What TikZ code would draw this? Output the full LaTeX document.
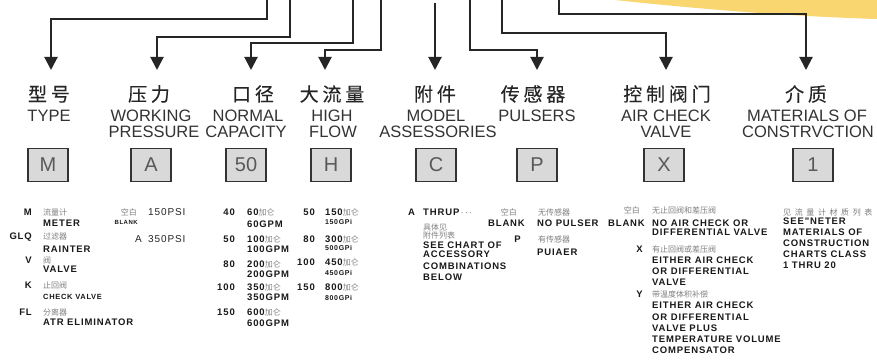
\documentclass[tikz,border=0pt]{standalone}
\usepackage{fontspec}
\setmainfont{Liberation Sans}
\newfontfamily\cjk{Noto Sans CJK SC}
\newfontfamily\cjktitle{Noto Sans CJK SC}[LetterSpace=20, FakeBold=0.15]
\newfontfamily\cjkwide{Noto Sans CJK SC}[LetterSpace=45]
\newfontfamily\bodyfont{Liberation Sans}[LetterSpace=9]
\usetikzlibrary{arrows.meta}
\definecolor{yel}{RGB}{249,214,112}
\newcommand\jialun{{\cjk\fontsize{8}{8}\selectfont\color{black!50}\mdseries 加仑}}
\tikzset{
  conn/.style={line width=2pt, draw=black!85, -{Triangle[width=13pt,length=13pt]}},
  codebox/.style={draw=black!80, line width=1.8pt, fill=black!15, minimum width=40pt, minimum height=33pt, inner sep=0pt, font=\fontsize{20}{20}\selectfont, text=black!65},
  cntitle/.style={font=\cjktitle\fontsize{19}{19}\selectfont, text=black!85, inner sep=0pt},
  entitle/.style={font=\fontsize{16.5}{17}\selectfont, text=black!80, inner sep=0pt, anchor=base},
  cns/.style={font=\cjk\fontsize{8}{8}\selectfont, text=black!50, inner sep=0pt, anchor=base west},
  ens/.style={font=\bodyfont\bfseries\fontsize{9.5}{10}\selectfont, text=black!90, inner sep=0pt, anchor=base west},
  code/.style={ens, anchor=base east},
  regs/.style={font=\bodyfont\fontsize{10}{10}\selectfont, text=black!85, inner sep=0pt, anchor=base west},
  tinys/.style={font=\bodyfont\bfseries\fontsize{6}{6}\selectfont, text=black!90, inner sep=0pt, anchor=base west},
  smalls/.style={font=\bodyfont\bfseries\fontsize{7}{7}\selectfont, text=black!90, inner sep=0pt, anchor=base west},
}
\begin{document}
\begin{tikzpicture}[x=1pt,y=-1pt]
\useasboundingbox (0,0) rectangle (877,363);
\fill[white] (0,0) rectangle (877,363);
% yellow swoosh
\fill[yel] (615,0) .. controls (690,8) and (780,16) .. (877,19) -- (877,0) -- cycle;

% connector ends
\coordinate (s1) at (267,0);  \coordinate (t1) at (51,70);
\coordinate (s2) at (290,0);  \coordinate (t2) at (157,70);
\coordinate (s3) at (353,0);  \coordinate (t3) at (251,70);
\coordinate (s4) at (381,0);  \coordinate (t4) at (325,70);
\coordinate (s5) at (435,3);  \coordinate (t5) at (435,70);
\coordinate (s6) at (470,0);  \coordinate (t6) at (537,70);
\coordinate (s7) at (502,0);  \coordinate (t7) at (666,70);
\coordinate (s8) at (559,0);  \coordinate (t8) at (806,70);
\draw[conn] (s1) -- ++(0,19) -| (t1);
\draw[conn] (s2) -- ++(0,37) -| (t2);
\draw[conn] (s3) -- ++(0,43) -| (t3);
\draw[conn] (s4) -- ++(0,50) -| (t4);
\draw[conn] (s5) -- (t5);
\draw[conn] (s6) -- ++(0,50) -| (t6);
\draw[conn] (s7) -- ++(0,33) -| (t7);
\draw[conn] (s8) -- ++(0,14) -| (t8);

% headings
\node[cntitle] (c1) at (49,94) {型号};
\node[entitle] (e1) at (49,122) {TYPE};
\node[cntitle] (c2) at (149,94) {压力};
\node[entitle] (e2a) at (151,122) {WORKING};
\node[entitle] (e2b) at (154,138) {PRESSURE};
\node[cntitle] (c3) at (253,94) {口径};
\node[entitle] (e3a) at (248,122) {NORMAL};
\node[entitle] (e3b) at (246,138) {CAPACITY};
\node[cntitle] (c4) at (332,94) {大流量};
\node[entitle] (e4a) at (332,122) {HIGH};
\node[entitle] (e4b) at (333,138) {FLOW};
\node[cntitle] (c5) at (435,94) {附件};
\node[entitle] (e5a) at (436,122) {MODEL};
\node[entitle] (e5b) at (438,138) {ASSESSORIES};
\node[cntitle] (c6) at (533,94) {传感器};
\node[entitle] (e6a) at (537,122) {PULSERS};
\node[cntitle] (c7) at (667,94) {控制阀门};
\node[entitle] (e7a) at (666,122) {AIR CHECK};
\node[entitle] (e7b) at (666,138) {VALVE};
\node[cntitle] (c8) at (806,94) {介质};
\node[entitle] (e8a) at (807,122) {MATERIALS OF};
\node[entitle] (e8b) at (808,138) {CONSTRVCTION};

% code boxes
\node[codebox] (b1) at (48,165) {M};
\node[codebox] (b2) at (151,165) {A};
\node[codebox] (b3) at (246,165) {50};
\node[codebox] (b4) at (331,165) {H};
\node[codebox] (b5) at (436,165) {C};
\node[codebox] (b6) at (537,165) {P};
\node[codebox] (b7) at (664,165) {X};
\node[codebox] (b8) at (813,165) {1};

% column 1: type
\node[code] (k11) at (32,215) {M};
\node[cns] (n11) at (43,215) {流量计};
\node[ens] (m11) at (43,227) {METER};
\node[code] (k12) at (32,240) {GLQ};
\node[cns] (n12) at (43,240) {过滤器};
\node[ens] (m12) at (43,252) {RAINTER};
\node[code] (k13) at (32,263) {V};
\node[cns] (n13) at (43,263) {阀};
\node[ens] (m13) at (43,272) {VALVE};
\node[code] (k14) at (32,288) {K};
\node[cns] (n14) at (43,288) {止回阀};
\node[smalls, font=\bodyfont\bfseries\fontsize{7.5}{8}\selectfont] (m14) at (43,299) {CHECK VALVE};
\node[code] (k15) at (32,315) {FL};
\node[cns] (n15) at (43,315) {分离器};
\node[ens] (m15) at (43,325) {ATR ELIMINATOR};

% column 2: pressure
\node[cns, anchor=base east] (k21) at (137,215) {空白};
\node[regs] (n21) at (148,215) {150PSI};
\node[tinys, anchor=base east] (m21) at (138,225) {BLANK};
\node[regs, anchor=base east] (k22) at (142,242) {A};
\node[regs] (n22) at (148,242) {350PSI};

% column 3: capacity
\node[code] (k31) at (235,215) {40};
\node[ens] (n31) at (247,215) {60\jialun};
\node[ens] (m31) at (247,228) {60GPM};
\node[code] (k32) at (235,242) {50};
\node[ens] (n32) at (247,242) {100\jialun};
\node[ens] (m32) at (247,252) {100GPM};
\node[code] (k33) at (235,267) {80};
\node[ens] (n33) at (247,267) {200\jialun};
\node[ens] (m33) at (247,277) {200GPM};
\node[code] (k34) at (235,290) {100};
\node[ens] (n34) at (247,290) {350\jialun};
\node[ens] (m34) at (247,300) {350GPM};
\node[code] (k35) at (235,315) {150};
\node[ens] (n35) at (247,315) {600\jialun};
\node[ens] (m35) at (247,326) {600GPM};

% column 4: high flow
\node[code] (k41) at (315,215) {50};
\node[ens] (n41) at (325,215) {150\jialun};
\node[smalls] (m41) at (325,225) {150GPi};
\node[code] (k42) at (315,242) {80};
\node[ens] (n42) at (325,242) {300\jialun};
\node[smalls] (m42) at (325,251) {500GPi};
\node[code] (k43) at (315,265) {100};
\node[ens] (n43) at (325,265) {450\jialun};
\node[smalls] (m43) at (325,275) {450GPi};
\node[code] (k44) at (315,290) {150};
\node[ens] (n44) at (325,290) {800\jialun};
\node[smalls] (m44) at (325,300) {800GPi};

% column 5: accessories
\node[ens] (k51) at (408,216) {A};
\node[ens] (n51) at (423,216) {THRUP\,$\cdots$};
\node[cns] (n52) at (423,230) {具体见};
\node[cns] (n53) at (423,238.5) {附件列表};
\node[ens] (m51) at (423,248) {SEE CHART OF};
\node[ens] (m52) at (423,258) {ACCESSORY};
\node[ens] (m53) at (423,269) {COMBINATIONS};
\node[ens] (m54) at (423,280) {BELOW};

% column 6: pulsers
\node[cns, anchor=base east] (k61) at (517,215) {空白};
\node[cns] (n61) at (538,215) {无传感器};
\node[code] (k62) at (525,227) {BLANK};
\node[ens] (m61) at (537,227) {NO PULSER};
\node[code] (k63) at (521,242) {P};
\node[cns] (n62) at (538,242) {有传感器};
\node[ens] (m62) at (537,255) {PUIAER};

% column 7: air check valve
\node[cns, anchor=base east] (k71) at (640,214) {空白};
\node[cns] (n71) at (652,214) {无止回阀和差压阀};
\node[code] (k72) at (645,226) {BLANK};
\node[ens] (m71) at (652,226) {NO AIR CHECK OR};
\node[ens] (m72) at (652,236) {DIFFERENTIAL VALVE};
\node[code] (k73) at (643,252) {X};
\node[cns] (n72) at (652,252) {有止回阀或差压阀};
\node[ens] (m73) at (652,263) {EITHER AIR CHECK};
\node[ens] (m74) at (652,274) {OR DIFFERENTIAL};
\node[ens] (m75) at (652,285) {VALVE};
\node[code] (k74) at (643,297) {Y};
\node[cns] (n73) at (652,297) {带温度体积补偿};
\node[ens] (m76) at (652,308) {EITHER AIR CHECK};
\node[ens] (m77) at (652,320) {OR DIFFERENTIAL};
\node[ens] (m78) at (652,331) {VALVE PLUS};
\node[ens] (m79) at (652,342) {TEMPERATURE VOLUME};
\node[ens] (m80) at (652,353) {COMPENSATOR};

% column 8: materials
\node[cns, font=\cjkwide\fontsize{8}{8}\selectfont] (n81) at (783,215) {见流量计材质列表};
\node[ens] (m81) at (783,225) {SEE"NETER};
\node[ens] (m82) at (783,236) {MATERIALS OF};
\node[ens] (m83) at (783,247) {CONSTRUCTION};
\node[ens] (m84) at (783,257) {CHARTS CLASS};
\node[ens] (m85) at (783,268) {1 THRU 20};
\end{tikzpicture}
\end{document}
